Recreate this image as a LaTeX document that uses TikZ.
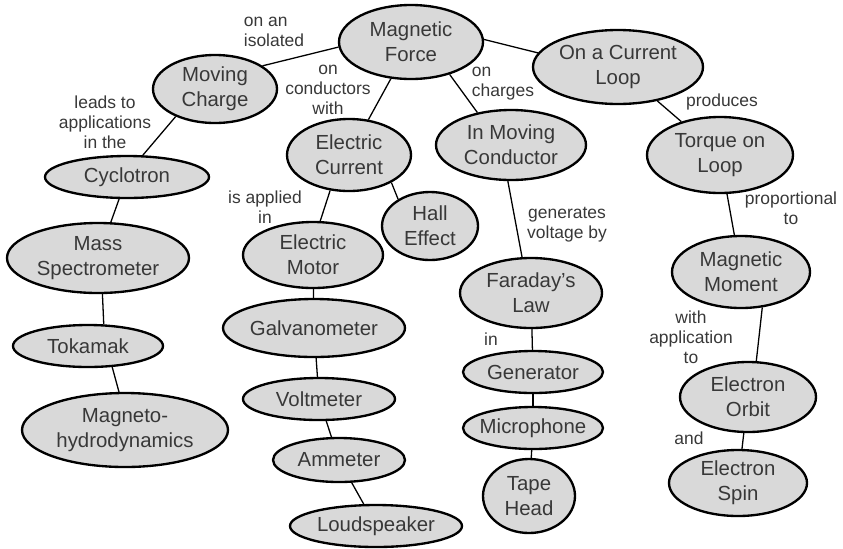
\documentclass[tikz,border=0pt]{standalone}
\usepackage{fontspec}
\setmainfont{Liberation Sans}
\usepackage{xcolor}
\usetikzlibrary{shapes}
\definecolor{blobfill}{HTML}{D9D9D9}
\definecolor{inkgray}{HTML}{383838}

\begin{document}
\begin{tikzpicture}[x=0.03cm, y=-0.03cm,
    concept/.style 2 args={ellipse, draw=black, line width=2pt, fill=blobfill,
      inner sep=-3cm, minimum width=#1*0.06cm, minimum height=#2*0.06cm,
      align=center, text=inkgray, font=\fontsize{17.4}{21}\selectfont},
    link/.style={align=center, text=inkgray, inner sep=0pt,
      font=\fontsize{14.9}{17}\selectfont},
    conn/.style={line width=1.1pt}]
    \useasboundingbox (0,0) rectangle (843,548);

    % Define nodes
    \node (force) [concept={72}{37}] at (411,42) {Magnetic\\Force};
    \node (moving) [concept={62}{34}] at (215,89) {Moving\\Charge};
    \node (loop) [concept={85}{37}] at (618,67) {On a Current\\Loop};
    \node (current) [concept={62}{36}] at (349,155) {Electric\\Current};
    \node (conductor) [concept={75}{35}] at (511,145) {In Moving\\Conductor};
    \node (torque) [concept={73}{38}] at (720,155) {Torque on\\Loop};
    \node (cyclotron) [concept={82}{21}] at (127,177) {Cyclotron};
    \node (spectro) [concept={91}{35}] at (98,258) {Mass\\Spectrometer};
    \node (tokamak) [concept={75}{21}] at (88,346) {Tokamak};
    \node (mhd) [concept={103}{37}] at (125,430) {Magneto-\\hydrodynamics};
    \node (hall) [concept={48}{34}] at (430,226) {Hall\\Effect};
    \node (motor) [concept={70}{33}] at (313,255) {Electric\\Motor};
    \node (galvano) [concept={91}{29}] at (314,328) {Galvanometer};
    \node (volt) [concept={76}{21}] at (319,399) {Voltmeter};
    \node (amm) [concept={66}{22}] at (339,460) {Ammeter};
    \node (speaker) [concept={86}{21}] at (376,526) {Loudspeaker};
    \node (faraday) [concept={71}{35}] at (531,293) {Faraday's\\Law};
    \node (generator) [concept={70}{21}] at (533,372) {Generator};
    \node (micro) [concept={70}{21}] at (533,428) {Microphone};
    \node (tape) [concept={46}{37}] at (529,496) {Tape\\Head};
    \node (moment) [concept={69}{36}] at (741,272) {Magnetic\\Moment};
    \node (orbit) [concept={68}{35}] at (748,397) {Electron\\Orbit};
    \node (spin) [concept={69}{33}] at (738,483) {Electron\\Spin};

    % Link words
    \node (isolated) [link, align=left] at (274,32) {on an\\isolated};
    \node (withcond) [link] at (328,90) {on\\conductors\\with};
    \node (charges) [link, align=left] at (503,84) {on\\charges};
    \node (produces) [link] at (722,102) {produces};
    \node (leads) [link] at (105,122) {leads to\\applications\\in the};
    \node (applied) [link] at (265,207) {is applied\\in};
    \node (generates) [link] at (567,225) {generates\\voltage by};
    \node (propto) [link] at (791,208) {proportional\\to};
    \node (inlabel) [link] at (491,339) {in};
    \node (withapp) [link] at (691,337) {with\\application\\to};
    \node (andlabel) [link] at (689,438) {and};

    % Draw edges
    \draw[conn] (force.184) -- (moving.26);
    \draw[conn] (force.2) -- (loop.170);
    \draw[conn] (force) -- (current);
    \draw[conn] (force.-40) -- (conductor.136);
    \draw[conn] (moving.-145) -- (cyclotron.54);
    \draw[conn] (cyclotron) -- (spectro);
    \draw[conn] (spectro.-83) -- (tokamak.54);
    \draw[conn] (tokamak.-41) -- (mhd.99);
    \draw[conn] (current.-118) -- (motor.78);
    \draw[conn] (current.-33) -- (hall.140);
    \draw[conn] (motor) -- (galvano);
    \draw[conn] (galvano) -- (volt);
    \draw[conn] (volt) -- (amm);
    \draw[conn] (amm) -- (speaker);
    \draw[conn] (conductor.-95) -- (faraday.104);
    \draw[conn] (faraday) -- (generator);
    \draw[conn] (generator) -- (micro);
    \draw[conn] (micro) -- (tape);
    \draw[conn] (loop) -- (torque);
    \draw[conn] (torque) -- (moment);
    \draw[conn] (moment.-59) -- (orbit.77);
    \draw[conn] (orbit) -- (spin);
\end{tikzpicture}
\end{document}
